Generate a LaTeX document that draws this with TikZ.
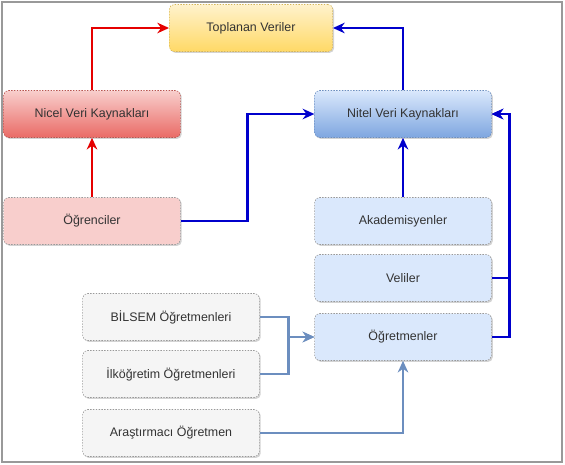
\documentclass[tikz,border=0pt]{standalone}
\usepackage{fontspec}
\setmainfont{Liberation Sans}
\usepackage{tikz}
\usetikzlibrary{positioning,arrows.meta,shadows}

\definecolor{yelTop}{HTML}{FFF2CC}
\definecolor{yelBot}{HTML}{FFD966}
\definecolor{yelLine}{HTML}{D6B656}
\definecolor{redTop}{HTML}{F8CECC}
\definecolor{redBot}{HTML}{EA6B66}
\definecolor{redLine}{HTML}{B85450}
\definecolor{bluTop}{HTML}{DAE8FC}
\definecolor{bluBot}{HTML}{7EA6E0}
\definecolor{bluLine}{HTML}{6C8EBF}
\definecolor{grayFill}{HTML}{F5F5F5}
\definecolor{boxLine}{HTML}{999999}
\definecolor{txt}{HTML}{333333}

\tikzset{
  box/.style = {draw=boxLine, dash pattern=on 1.2pt off 1.2pt, line width=0.5pt,
                rounded corners=4pt, minimum width=5.3cm, minimum height=1.41cm,
                text=txt, font=\fontsize{10.6}{12}\selectfont,
                drop shadow={opacity=0.35, shadow xshift=1.2pt, shadow yshift=-1.2pt}},
  yelbox/.style = {box, draw=yelLine, top color=yelTop, bottom color=yelBot},
  redbox/.style = {box, draw=redLine, top color=redTop, bottom color=redBot},
  blubox/.style = {box, draw=bluLine, top color=bluTop, bottom color=bluBot},
  pinkbox/.style = {box, fill=redTop},
  ltblubox/.style = {box, fill=bluTop},
  graybox/.style = {box, fill=grayFill},
  redarrow/.style = {draw=red!90!black, line width=2.1pt, -{Stealth[length=10pt,width=9pt]}},
  bluarrow/.style = {draw=blue!80!black, line width=2.1pt, -{Stealth[length=10pt,width=9pt]}},
  stlarrow/.style = {draw=bluLine, line width=2.1pt, -{Stealth[length=10pt,width=9pt]}}
}

\begin{document}
\begin{tikzpicture}[x=0.03cm, y=-0.03cm]
  \useasboundingbox (0,0) rectangle (565,464);
  \draw[boxLine, line width=1.2pt] (2,2) rectangle (562,462);

  \node[yelbox, minimum width=4.9cm] (veri) at (251,28) {Toplanan Veriler};
  \node[redbox] (nicel) at (92,114) {Nicel Veri Kaynakları};
  \node[blubox] (nitel) at (403,114) {Nitel Veri Kaynakları};
  \node[pinkbox] (ogrenci) at (92,221) {Öğrenciler};
  \node[ltblubox] (akad) at (403,221) {Akademisyenler};
  \node[ltblubox] (veli) at (403,278) {Veliler};
  \node[ltblubox] (ogretmen) at (403,337) {Öğretmenler};
  \node[graybox] (bilsem) at (171,317) {BİLSEM Öğretmenleri};
  \node[graybox] (ilk) at (171,374) {İlköğretim Öğretmenleri};
  \node[graybox] (arastirmaci) at (171,433) {Araştırmacı Öğretmen};

  \draw[redarrow] (nicel.north) |- (veri.west);
  \draw[bluarrow] (nitel.north) |- (veri.east);
  \draw[redarrow] (ogrenci.north) -- (nicel.south);
  \draw[bluarrow] (ogrenci.east) -- ++(67,0) |- (nitel.west);
  \draw[bluarrow] (akad.north) -- (nitel.south);
  \draw[bluarrow] (veli.east) -- ++(18,0) |- (nitel.east);
  \draw[bluarrow] (ogretmen.east) -- ++(18,0) |- (nitel.east);
  \draw[stlarrow] (bilsem.east) -- ++(29,0) |- (ogretmen.west);
  \draw[stlarrow] (ilk.east) -- ++(29,0) |- (ogretmen.west);
  \draw[stlarrow] (arastirmaci.east) -| (ogretmen.south);
\end{tikzpicture}
\end{document}
